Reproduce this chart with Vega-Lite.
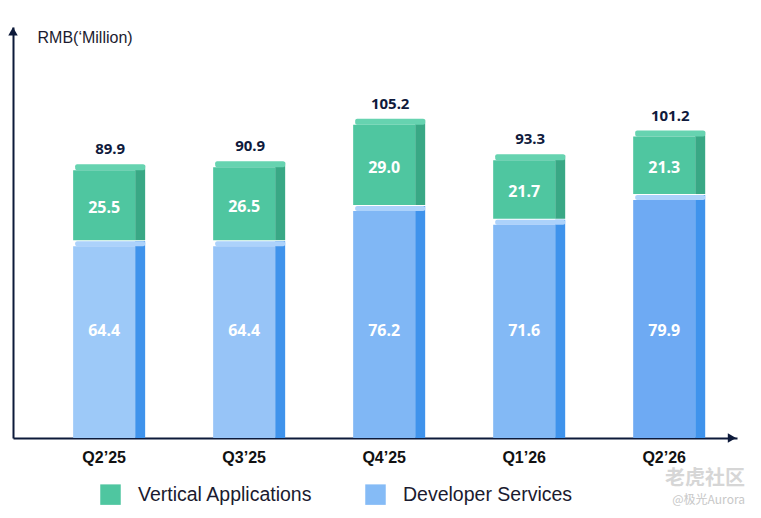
{
  "$schema": "https://vega.github.io/schema/vega-lite/v6.json",
  "width": 724,
  "height": 411,
  "autosize": {"type": "none"},
  "padding": {"left": 13, "top": 27, "right": 24, "bottom": 80},
  "background": "#ffffff",
  "config": {"view": {"stroke": null}, "font": "Liberation Sans"},
  "title": {
    "text": "老虎社区",
    "subtitle": "@极光Aurora",
    "orient": "bottom",
    "anchor": "end",
    "frame": "group",
    "font": "Noto Sans CJK SC",
    "fontSize": 20,
    "fontWeight": "bold",
    "color": "#d6d6d6",
    "subtitleFont": "Noto Sans CJK SC",
    "subtitleFontSize": 12,
    "subtitleColor": "#c8c8c8",
    "subtitlePadding": 6,
    "offset": 0,
    "dx": 8,
    "dy": -36
  },
  "data": {
    "values": [
      {"quarter": "Q2’25", "series": "Developer Services", "value": 64.4},
      {"quarter": "Q2’25", "series": "Vertical Applications", "value": 25.5},
      {"quarter": "Q3’25", "series": "Developer Services", "value": 64.4},
      {"quarter": "Q3’25", "series": "Vertical Applications", "value": 26.5},
      {"quarter": "Q4’25", "series": "Developer Services", "value": 76.2},
      {"quarter": "Q4’25", "series": "Vertical Applications", "value": 29.0},
      {"quarter": "Q1’26", "series": "Developer Services", "value": 71.6},
      {"quarter": "Q1’26", "series": "Vertical Applications", "value": 21.7},
      {"quarter": "Q2’26", "series": "Developer Services", "value": 79.9},
      {"quarter": "Q2’26", "series": "Vertical Applications", "value": 21.3}
    ]
  },
  "layer": [
    {
      "transform": [
        {"stack": "value", "groupby": ["quarter"], "sort": [{"field": "series", "order": "ascending"}], "as": ["y0", "y1"]}
      ],
      "encoding": {
        "x": {
          "field": "quarter",
          "type": "nominal",
          "sort": null,
          "scale": {"paddingInner": 0.557, "paddingOuter": 0.364, "align": 0.59},
          "axis": {
            "title": null,
            "domainColor": "#0d1a3a",
            "domainWidth": 2,
            "ticks": false,
            "labelFontSize": 16,
            "labelFontWeight": "bold",
            "labelColor": "#111111",
            "labelPadding": 11,
            "labelAngle": 0,
            "labelFont": "Liberation Sans"
          }
        }
      },
      "layer": [
        {
          "transform": [{"filter": "datum.series === 'Developer Services'"}],
          "mark": {"type": "bar", "width": 10, "xOffset": 36, "yOffset": -5, "color": "#3f93ec"},
          "encoding": {
            "y": {
              "field": "y1",
              "type": "quantitative",
              "scale": {"domain": [0, 138], "nice": false},
              "axis": {
                "title": "RMB(‘Million)",
                "titleAngle": 0,
                "titleAlign": "left",
                "titleBaseline": "middle",
                "titleX": 24,
                "titleY": 10,
                "titleFontSize": 16,
                "titleFontWeight": "normal",
                "titleColor": "#1b1b2f",
                "titleFont": "Liberation Sans",
                "labels": false,
                "ticks": false,
                "grid": false,
                "domainColor": "#0d1a3a",
                "domainWidth": 2
              }
            },
            "y2": {"field": "y0"}
          }
        },
        {
          "transform": [{"filter": "datum.series === 'Developer Services'"}],
          "mark": {"type": "bar", "width": 70, "xOffset": 6, "yOffset": -5, "color": "#acd2fb", "cornerRadius": 2},
          "encoding": {
            "y": {"field": "y1", "type": "quantitative"},
            "y2": {"field": "y1"}
          }
        },
        {
          "transform": [{"filter": "datum.series === 'Developer Services'"}],
          "mark": {"type": "bar"},
          "encoding": {
            "y": {"field": "y1", "type": "quantitative"},
            "y2": {"field": "y0"},
            "fill": {
              "field": "quarter",
              "type": "nominal",
              "sort": null,
              "scale": {"range": ["#9dc9f8", "#97c4f7", "#80b7f5", "#83b9f5", "#6eaaf3"]},
              "legend": null
            }
          }
        },
        {
          "transform": [{"filter": "datum.series === 'Vertical Applications'"}],
          "mark": {"type": "bar", "width": 10, "xOffset": 36, "yOffset": -5, "y2Offset": -6, "color": "#39a885"},
          "encoding": {
            "y": {"field": "y1", "type": "quantitative"},
            "y2": {"field": "y0"}
          }
        },
        {
          "transform": [{"filter": "datum.series === 'Vertical Applications'"}],
          "mark": {"type": "bar", "width": 70, "xOffset": 6, "yOffset": -6, "color": "#66d3b0", "cornerRadius": 2},
          "encoding": {
            "y": {"field": "y1", "type": "quantitative"},
            "y2": {"field": "y1"}
          }
        },
        {
          "transform": [{"filter": "datum.series === 'Vertical Applications'"}],
          "mark": {"type": "bar", "y2Offset": -6},
          "encoding": {
            "y": {"field": "y1", "type": "quantitative"},
            "y2": {"field": "y0"},
            "color": {
              "field": "series",
              "type": "nominal",
              "scale": {"domain": ["Vertical Applications", "Developer Services"], "range": ["#4fc6a0", "#85bbf6"]},
              "legend": {
                "orient": "none",
                "legendX": 87,
                "legendY": 457,
                "direction": "horizontal",
                "title": null,
                "symbolType": "square",
                "symbolSize": 420,
                "symbolStrokeWidth": 0,
                "labelFontSize": 19.5,
                "labelColor": "#1b1b2f",
                "labelOffset": 17,
                "columnPadding": 52,
                "labelFont": "Liberation Sans",
                "labelLimit": 400
              }
            }
          }
        },
        {
          "mark": {"type": "text", "font": "Noto Sans", "fontWeight": "bold", "fontSize": 16, "color": "#ffffff", "baseline": "middle"},
          "encoding": {
            "y": {"field": "value", "type": "quantitative", "stack": "zero", "bandPosition": 0.5},
            "detail": {"field": "series"},
            "order": {"field": "series", "sort": "ascending"},
            "text": {
              "condition": {"test": "datum.series === 'Vertical Applications'", "field": "value", "type": "quantitative", "format": ".1f"},
              "value": ""
            }
          }
        },
        {
          "transform": [{"filter": "datum.series === 'Developer Services'"}],
          "mark": {"type": "text", "font": "Noto Sans", "fontWeight": "bold", "fontSize": 16, "color": "#ffffff", "baseline": "middle"},
          "encoding": {
            "y": {"datum": 36, "type": "quantitative"},
            "text": {"field": "value", "type": "quantitative", "format": ".1f"}
          }
        },
        {
          "transform": [{"aggregate": [{"op": "sum", "field": "value", "as": "total"}], "groupby": ["quarter"]}],
          "mark": {"type": "text", "font": "Noto Sans", "fontWeight": "bold", "fontSize": 15, "color": "#0f1a3c", "baseline": "middle", "dy": -21, "dx": 6},
          "encoding": {
            "y": {"field": "total", "type": "quantitative"},
            "text": {"field": "total", "type": "quantitative", "format": ".1f"}
          }
        }
      ]
    },
    {
      "data": {"values": [{}]},
      "layer": [
        {
          "mark": {"type": "point", "shape": "triangle-up", "filled": true, "size": 90, "color": "#0d1a3a", "opacity": 1},
          "encoding": {
            "x": {"datum": 0, "type": "quantitative", "scale": {"domain": [0, 1], "nice": false}, "axis": null},
            "y": {"datum": 136.5, "type": "quantitative"}
          }
        },
        {
          "mark": {"type": "point", "shape": "triangle-right", "filled": true, "size": 90, "color": "#0d1a3a", "opacity": 1},
          "encoding": {
            "x": {"datum": 0.993, "type": "quantitative"},
            "y": {"datum": 0, "type": "quantitative"}
          }
        }
      ]
    }
  ],
  "resolve": {"scale": {"x": "independent"}, "axis": {"x": "independent"}}
}
